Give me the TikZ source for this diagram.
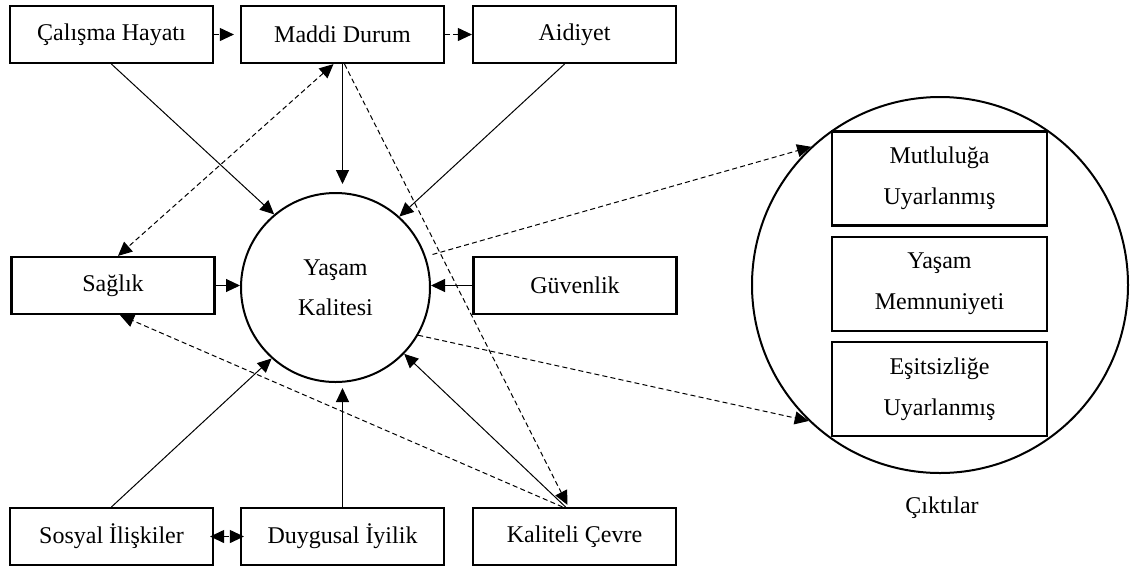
\documentclass[tikz,border=0pt]{standalone}
\usepackage{fontspec}
\setmainfont{Liberation Serif}
\usetikzlibrary{arrows.meta,calc}
\begin{document}
\begin{tikzpicture}[x=0.5pt,y=-0.5pt,
  tip/.tip={Triangle[length=7pt,width=6.5pt]},
  box/.style={draw,line width=1.1pt,minimum width=101.5pt,minimum height=28.5pt,
    inner sep=0pt,font=\fontsize{12}{14}\selectfont},
  outbox/.style={draw,line width=1.1pt,minimum width=107.5pt,minimum height=47pt,
    inner sep=0pt,align=center,font=\fontsize{12}{20.5}\selectfont},
  conn/.style={line width=0.5pt,-tip},
  dconn/.style={conn,dash pattern=on 2.5pt off 1.6pt},
  both/.style={line width=0.5pt,tip-tip,dash pattern=on 2.5pt off 1.6pt}
]
\useasboundingbox (0,0) rectangle (1130,569);

% factor boxes
\node[box] (cal) at (111.5,34.5) {Çalışma Hayatı};
\node[box] (mad) at (342.5,34.5) {Maddi Durum};
\node[box] (aid) at (574.5,34.5) {Aidiyet};
\node[box] (sag) at (113,285.5) {Sağlık};
\node[box] (guv) at (575,285.5) {Güvenlik};
\node[box] (sos) at (111.5,536.5) {Sosyal İlişkiler};
\node[box] (duy) at (342.5,536.5) {Duygusal İyilik};
\node[box] (kal) at (574.5,536.5) {Kaliteli Çevre};

% central circle
\node[circle,draw,line width=1pt,minimum size=94.5pt,inner sep=0pt,align=center,
  font=\fontsize{12}{20}\selectfont] (yk) at (335.5,287.5) {Yaşam\\Kalitesi};

% outcomes
\node[circle,draw,line width=1pt,minimum size=188pt,inner sep=0pt] (out) at (940,285) {};
\node[outbox] (o1) at (939.5,178.5) {Mutluluğa\\Uyarlanmış};
\node[outbox] (o2) at (939.5,284) {Yaşam\\Memnuniyeti};
\node[outbox] (o3) at (939.5,389) {Eşitsizliğe\\Uyarlanmış};
\node[font=\fontsize{12}{14}\selectfont] (ck) at (942,508) {Çıktılar};

% connectors between the top boxes and the lower pair
\draw[dconn,shorten >=3pt] (cal) -- (mad);
\draw[dconn] (mad) -- (aid);
\draw[both,shorten <=-2pt,shorten >=-2pt] (sos) -- (duy);

% arrows into the central circle
\draw[conn] (cal.south) -- (yk.130.3);
\draw[conn] (mad.south) -- ([yshift=4pt]mad.south |- yk.north);
\draw[conn] ($(aid.south)+(-10,0)$) -- (yk.48.2);
\draw[conn] (sag.east) -- (sag.east -| yk.west);
\draw[conn] (guv.west) -- (guv.west -| yk.east);
\draw[conn] (sos.north) -- (yk.228);
\draw[conn] (duy.north) -- ([yshift=-2.5pt]duy.north |- yk.south);
\draw[conn] ($(kal.north)+(-9,0)$) -- (yk.-44.2);

% dashed cross links
\draw[both] ($(mad.south)+(-9,0)$) -- ($(sag.north)+(5,0)$);
\draw[dconn] ($(mad.south)+(2,0)$) -- ($(kal.north)+(-7,-2)$);
\draw[dconn] ($(kal.north)+(-12,0)$) -- ($(sag.south)+(7,0)$);

% links to the outcomes
\draw[dconn,shorten <=3.5pt] (yk.19) -- (out.133.9);
\draw[dconn] (yk.-30.4) -- (out.226.1);
\end{tikzpicture}
\end{document}
